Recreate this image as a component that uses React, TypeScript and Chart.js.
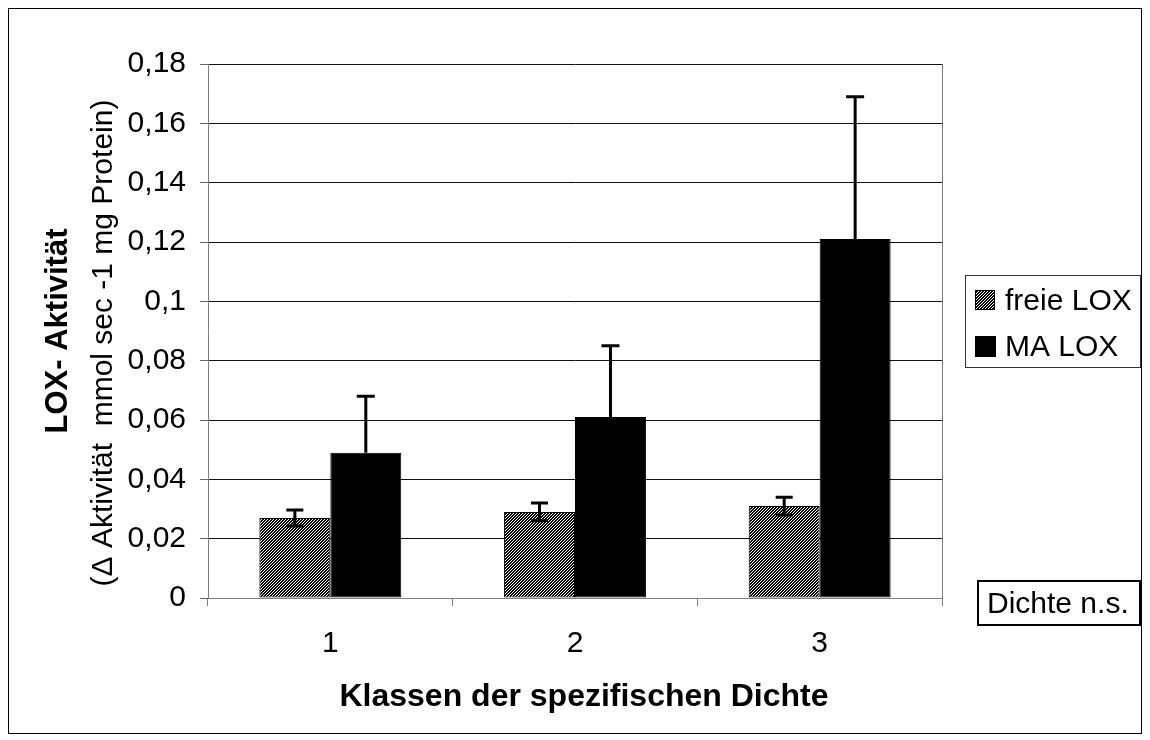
import React, { useEffect, useRef } from "react";
import { Chart, registerables } from "chart.js";

Chart.register(...registerables);

const categories = ["1", "2", "3"];
const freieLabel = "freie LOX";
const maLabel = "MA LOX";
const freieValues = [0.027, 0.029, 0.031];
const freieErrors = [0.0027, 0.003, 0.003];
const maValues = [0.049, 0.061, 0.121];
const maErrorsUp = [0.019, 0.024, 0.048];
const yMin = 0;
const yMax = 0.18;
const yStep = 0.02;
const yTitleMain = "LOX- Aktivität";
const yTitleSub = "(Δ Aktivität  mmol sec -1 mg Protein)";
const xTitle = "Klassen der spezifischen Dichte";
const noteText = "Dichte n.s.";

const FONT = '"Liberation Sans", Arial, sans-serif';
const W = 1132;
const H = 724;

function makeHatch(): CanvasPattern | string {
  const c = document.createElement("canvas");
  c.width = 3;
  c.height = 3;
  const g = c.getContext("2d");
  if (!g) return "#555";
  g.fillStyle = "#fff";
  g.fillRect(0, 0, 3, 3);
  g.fillStyle = "#000";
  for (let x = 0; x < 3; x++) {
    for (let y = 0; y < 3; y++) {
      if ((x + y) % 3 !== 0) g.fillRect(x, y, 1, 1);
    }
  }
  const p = g.createPattern(c, "repeat");
  return p || "#555";
}

export default function App() {
  const ref = useRef<HTMLCanvasElement | null>(null);

  useEffect(() => {
    if (!ref.current) return;
    const hatch = makeHatch();

    const errorBars = {
      id: "errorBars",
      afterDatasetsDraw(chart: any) {
        const ctx = chart.ctx;
        const ys = chart.scales.y;
        ctx.save();
        ctx.strokeStyle = "#000";
        ctx.lineWidth = 3;
        const drawBar = (x: number, yTop: number, yBot: number, cap: number, lowerCap: boolean) => {
          ctx.beginPath();
          ctx.moveTo(x, yTop);
          ctx.lineTo(x, yBot);
          ctx.moveTo(x - cap / 2, yTop);
          ctx.lineTo(x + cap / 2, yTop);
          if (lowerCap) {
            ctx.moveTo(x - cap / 2, yBot);
            ctx.lineTo(x + cap / 2, yBot);
          }
          ctx.stroke();
        };
        const m0 = chart.getDatasetMeta(0);
        freieValues.forEach((v, i) => {
          const x = m0.data[i].x;
          drawBar(x, ys.getPixelForValue(v + freieErrors[i]), ys.getPixelForValue(v - freieErrors[i]), 17, true);
        });
        const m1 = chart.getDatasetMeta(1);
        maValues.forEach((v, i) => {
          const x = m1.data[i].x;
          drawBar(x, ys.getPixelForValue(v + maErrorsUp[i]), ys.getPixelForValue(v), 18, false);
        });
        ctx.restore();
      },
    };

    const decor = {
      id: "decor",
      afterDraw(chart: any) {
        const ctx = chart.ctx;
        const { left, right, top, bottom } = chart.chartArea;
        ctx.save();
        ctx.strokeStyle = "#808080";
        ctx.lineWidth = 1;
        ctx.beginPath();
        ctx.moveTo(Math.round(right) + 0.5, top);
        ctx.lineTo(Math.round(right) + 0.5, bottom);
        ctx.stroke();

        ctx.fillStyle = "#000";
        ctx.save();
        ctx.translate(58, 322);
        ctx.rotate(-Math.PI / 2);
        ctx.font = `bold 31px ${FONT}`;
        ctx.textAlign = "center";
        ctx.textBaseline = "alphabetic";
        ctx.fillText(yTitleMain, 0, 0);
        ctx.restore();
        ctx.save();
        ctx.translate(103, 334);
        ctx.rotate(-Math.PI / 2);
        ctx.font = `30px ${FONT}`;
        ctx.textAlign = "center";
        ctx.textBaseline = "alphabetic";
        ctx.fillText(yTitleSub, 0, 0);
        ctx.restore();

        ctx.font = `bold 32px ${FONT}`;
        ctx.textAlign = "center";
        ctx.textBaseline = "alphabetic";
        ctx.fillText(xTitle, (left + right) / 2 + 9, 697);

        ctx.strokeStyle = "#333";
        ctx.lineWidth = 1;
        ctx.strokeRect(956.5, 266.5, 175, 92);
        ctx.fillStyle = hatch as any;
        ctx.fillRect(966, 281, 20, 20);
        ctx.strokeStyle = "#000";
        ctx.strokeRect(966.5, 281.5, 19, 19);
        ctx.fillStyle = "#000";
        ctx.fillRect(966, 327, 21, 21);
        ctx.font = `30px ${FONT}`;
        ctx.textAlign = "left";
        ctx.fillText(freieLabel, 996, 301);
        ctx.fillText(maLabel, 996, 347);

        ctx.lineWidth = 2;
        ctx.strokeStyle = "#000";
        ctx.strokeRect(969, 572, 162, 44);
        ctx.fillText(noteText, 978, 604);
        ctx.restore();
      },
    };

    const chart = new Chart(ref.current, {
      type: "bar",
      data: {
        labels: categories,
        datasets: [
          {
            label: freieLabel,
            data: freieValues,
            backgroundColor: hatch as any,
            borderColor: "#000",
            borderWidth: 1,
            borderSkipped: false,
            categoryPercentage: 0.58,
            barPercentage: 1,
          },
          {
            label: maLabel,
            data: maValues,
            backgroundColor: "#000",
            borderColor: "#000",
            borderWidth: 1,
            borderSkipped: false,
            categoryPercentage: 0.58,
            barPercentage: 1,
          },
        ],
      },
      options: {
        responsive: false,
        animation: false,
        devicePixelRatio: 1,
        layout: { padding: { left: 0, top: 55, right: W - 933, bottom: 0 } },
        plugins: {
          legend: { display: false },
          tooltip: { enabled: false },
          title: { display: false },
        },
        scales: {
          x: {
            offset: true,
            afterFit: (s: any) => {
              s.height = H - 589;
            },
            grid: {
              drawOnChartArea: false,
              drawTicks: true,
              tickLength: 8,
              color: "#808080",
              offset: true,
            },
            border: { color: "#808080", width: 1 },
            ticks: {
              color: "#000",
              padding: 20,
              font: { family: FONT, size: 30 },
            },
          },
          y: {
            min: yMin,
            max: yMax,
            afterFit: (s: any) => {
              s.width = 199;
            },
            ticks: {
              stepSize: yStep,
              color: "#000",
              padding: 14,
              font: { family: FONT, size: 30 },
              callback: (v: any) => Number(Number(v).toFixed(2)).toString().replace(".", ","),
            },
            grid: {
              color: "#111",
              tickColor: "#666",
              tickLength: 8,
              lineWidth: 1,
            },
            border: { color: "#808080", width: 1 },
          },
        },
      },
      plugins: [errorBars, decor],
    });
    return () => chart.destroy();
  }, []);

  return (
    <div style={{ width: W, height: H, border: "1px solid #000", background: "#fff" }}>
      <canvas ref={ref} width={W} height={H} style={{ width: W, height: H, display: "block" }} />
    </div>
  );
}
